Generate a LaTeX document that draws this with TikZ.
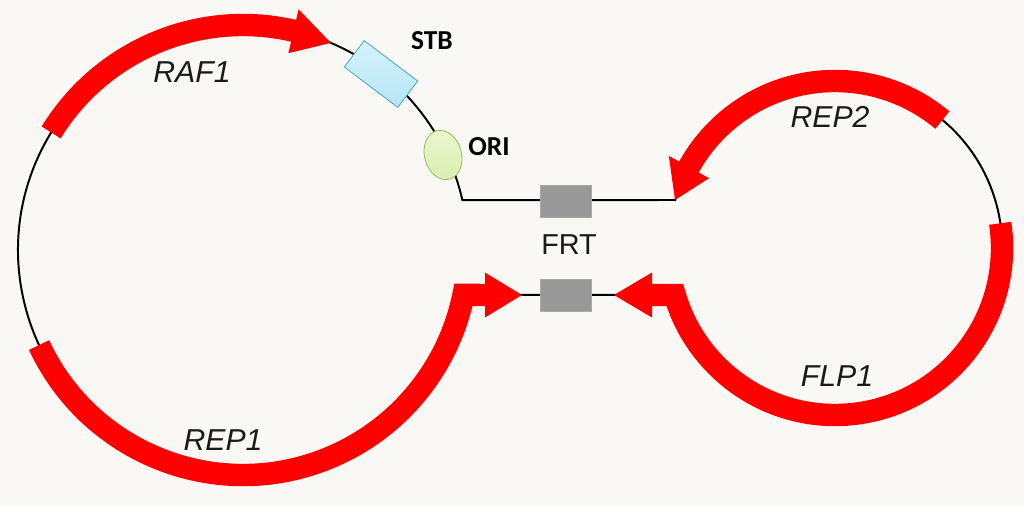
\documentclass[tikz,border=0pt]{standalone}
\usepackage{fontspec}
\setmainfont{Liberation Sans}
\newfontfamily\calib{Carlito}
\usetikzlibrary{calc,shapes.geometric}
\definecolor{bg}{HTML}{F9F8F5}
\definecolor{gene}{HTML}{FF0000}
\definecolor{frtgray}{HTML}{999999}
\definecolor{stbfill}{HTML}{B5E6F6}
\definecolor{stbtop}{HTML}{D6F3FC}
\definecolor{stbdraw}{HTML}{4FA6C9}
\definecolor{orifill}{HTML}{D9EFAE}
\definecolor{oritop}{HTML}{EAF7CF}
\definecolor{oridraw}{HTML}{98BE5C}
\definecolor{txt}{HTML}{1A1A1A}
\begin{document}
\begin{tikzpicture}[x=0.025cm,y=0.025cm,
  band/.style={draw=gene, line width=0.56cm, line join=miter},
  headtip/.style={fill=gene},
  backbone/.style={draw=black, line width=1.4pt},
  genelabel/.style={font=\fontsize{21.5}{25}\selectfont\itshape, text=txt},
  sitelabel/.style={font=\calib\bfseries\fontsize{19.5}{23}\selectfont, text=black},
  frtbox/.style={draw=frtgray!85, fill=frtgray, minimum width=51*0.025cm, minimum height=32*0.025cm, inner sep=0pt},
]
\fill[bg] (0,0) rectangle (1024,506);
\useasboundingbox (0,0) rectangle (1024,506);
\coordinate (L) at (243,256);
\coordinate (R) at (835,258);

% backbone
\draw[backbone] ($(L)+(12.8:225)$) arc[start angle=12.8,end angle=348.5,radius=225]
  -- (675,211) arc[start angle=196.35,end angle=523.3,radius=167] -- cycle;

% RAF1
\draw[band] ($(L)+(148.5:225)$) arc[start angle=148.5,end angle=76.5,radius=225];
\fill[headtip] ($(L)+(77:202)$) -- ($(L)+(77:247)$) -- ($(L)+(67:225)$) -- cycle;

% REP2
\draw[band] ($(R)+(50:167)$) arc[start angle=50,end angle=151.5,radius=167];
\fill[headtip] ($(R)+(151:144)$) -- ($(R)+(151:190)$) -- ($(R)+(163.3:167)$) -- cycle;

% FLP1
\draw[band] ($(R)+(8.5:167)$) arc[start angle=8.5,end angle=-163.65,radius=167] -- (650,211);
\fill[headtip] (652,233.5) -- (652,188.5) -- (614,211) -- cycle;

% REP1
\draw[band] ($(L)+(205:225)$) arc[start angle=205,end angle=348.5,radius=225] -- (487,211);
\fill[headtip] (485,233.5) -- (485,188.5) -- (522,211) -- cycle;

% FRT sites
\node[frtbox] (frt1) at (565.5,305) {};
\node[frtbox] (frt2) at (565.5,210.5) {};
\node[font=\fontsize{20.5}{24}\selectfont, text=txt] (frt) at (569,261) {FRT};

% STB and ORI
\node[draw=stbdraw, top color=stbtop, bottom color=stbfill, rotate=-37,
  minimum width=67*0.025cm, minimum height=33*0.025cm, inner sep=0pt, line width=0.6pt] (stb) at (381,432) {};
\node[ellipse, draw=oridraw, top color=oritop, bottom color=orifill, rotate=15,
  minimum width=37*0.025cm, minimum height=50*0.025cm, inner sep=0pt, line width=0.6pt] (ori) at (443,351) {};
\node[sitelabel] (stbl) at (432,465) {STB};
\node[sitelabel] (oril) at (489,359.5) {ORI};

% gene labels
\node[genelabel] (raf) at (192,434) {RAF1};
\node[genelabel] (rep2) at (830,389) {REP2};
\node[genelabel] (rep1) at (223,66) {REP1};
\node[genelabel] (flp1) at (837,130) {FLP1};
\end{tikzpicture}
\end{document}
